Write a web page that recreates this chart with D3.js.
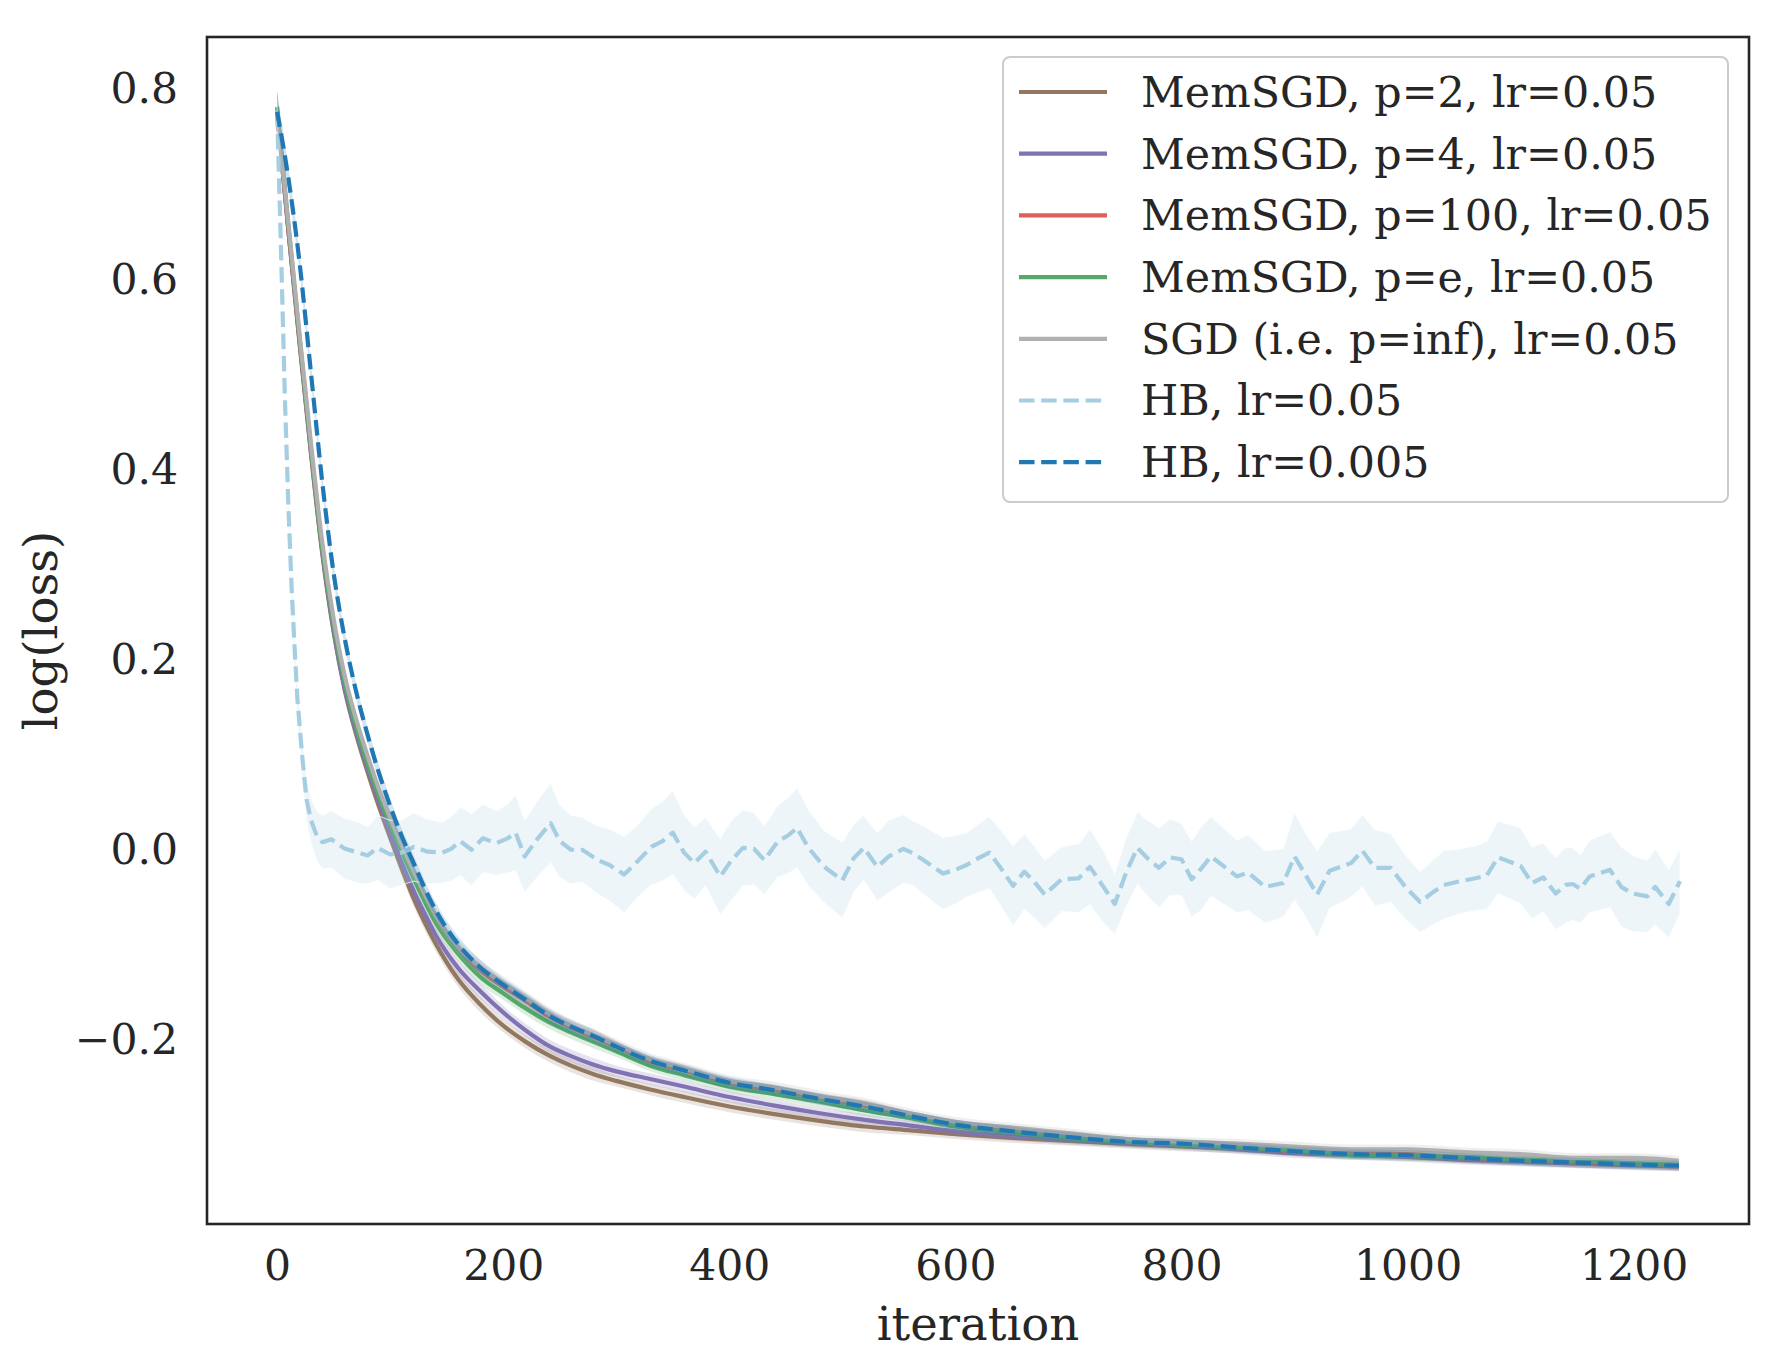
<!DOCTYPE html>
<html>
<head>
<meta charset="utf-8">
<script src="https://cdn.jsdelivr.net/npm/d3@7/dist/d3.min.js"></script>
<style>
  html, body { margin: 0; padding: 0; background: #ffffff; }
  svg { display: block; }
  text { font-family: "DejaVu Serif", serif; fill: #262626; }
</style>
</head>
<body>
<svg id="chart" width="1786" height="1368"></svg>
<script>
// ---------------- data ----------------
const seriesNames = [
  "MemSGD, p=2, lr=0.05",
  "MemSGD, p=4, lr=0.05",
  "MemSGD, p=100, lr=0.05",
  "MemSGD, p=e, lr=0.05",
  "SGD (i.e. p=inf), lr=0.05",
  "HB, lr=0.05",
  "HB, lr=0.005"
];
const seriesColors = ["#937860", "#8172b3", "#dc5f59", "#55a868", "#b0b0b0", "#a6cee3", "#1f78b4"];
const seriesDashed = [false, false, false, false, false, true, true];

const xTicks = [0, 200, 400, 600, 800, 1000, 1200];
const yTicks = [-0.2, 0.0, 0.2, 0.4, 0.6, 0.8];

// shared iteration grid for the smooth curves
const memIter = [0,10,20,30,40,50,60,70,80,90,100,110,120,130,140,160,180,200,220,240,260,280,300,330,360,400,440,480,520,560,600,650,700,750,800,850,900,950,1000,1050,1100,1150,1200,1240];

const memP2 = [0.775,0.65,0.53,0.415,0.31,0.228,0.166,0.12,0.081,0.045,0.012,-0.02,-0.05,-0.076,-0.099,-0.137,-0.164,-0.186,-0.203,-0.217,-0.228,-0.237,-0.244,-0.253,-0.261,-0.271,-0.279,-0.286,-0.292,-0.296,-0.300,-0.304,-0.307,-0.310,-0.313,-0.315,-0.318,-0.321,-0.323,-0.326,-0.328,-0.330,-0.332,-0.334];
const memP4 = [0.775,0.65,0.532,0.417,0.312,0.23,0.168,0.123,0.085,0.05,0.017,-0.014,-0.042,-0.067,-0.09,-0.125,-0.150,-0.172,-0.191,-0.207,-0.218,-0.227,-0.234,-0.242,-0.250,-0.261,-0.270,-0.278,-0.285,-0.291,-0.297,-0.302,-0.306,-0.309,-0.312,-0.316,-0.320,-0.322,-0.324,-0.327,-0.329,-0.331,-0.333,-0.334];
const memP100 = [0.775,0.652,0.534,0.42,0.316,0.237,0.176,0.131,0.093,0.059,0.029,0.001,-0.026,-0.051,-0.074,-0.106,-0.128,-0.145,-0.160,-0.176,-0.188,-0.198,-0.208,-0.224,-0.233,-0.247,-0.254,-0.263,-0.270,-0.281,-0.290,-0.296,-0.302,-0.308,-0.310,-0.313,-0.318,-0.320,-0.321,-0.325,-0.327,-0.330,-0.331,-0.333];
const memPe = [0.78,0.655,0.535,0.42,0.315,0.235,0.174,0.128,0.09,0.056,0.026,-0.002,-0.029,-0.054,-0.077,-0.11,-0.135,-0.152,-0.168,-0.182,-0.193,-0.203,-0.213,-0.228,-0.238,-0.250,-0.258,-0.266,-0.275,-0.283,-0.292,-0.298,-0.304,-0.308,-0.311,-0.314,-0.317,-0.322,-0.323,-0.324,-0.327,-0.328,-0.331,-0.332];
const sgd = [0.775,0.658,0.54,0.426,0.322,0.242,0.181,0.136,0.098,0.063,0.033,0.005,-0.021,-0.046,-0.069,-0.103,-0.125,-0.141,-0.157,-0.173,-0.186,-0.196,-0.206,-0.221,-0.231,-0.244,-0.251,-0.260,-0.268,-0.278,-0.287,-0.293,-0.299,-0.305,-0.308,-0.310,-0.313,-0.316,-0.316,-0.319,-0.321,-0.325,-0.325,-0.328];
const hbSlow = [0.775,0.705,0.615,0.50,0.385,0.29,0.22,0.165,0.12,0.08,0.045,0.014,-0.013,-0.04,-0.064,-0.10,-0.125,-0.143,-0.159,-0.175,-0.187,-0.197,-0.208,-0.223,-0.233,-0.246,-0.254,-0.263,-0.271,-0.281,-0.290,-0.297,-0.303,-0.308,-0.310,-0.314,-0.318,-0.321,-0.322,-0.325,-0.328,-0.330,-0.332,-0.333];
const memSpread = [0.02,0.012,0.01,0.009,0.008,0.008,0.008,0.008,0.008,0.008,0.008,0.008,0.008,0.008,0.008,0.008,0.008,0.007,0.007,0.007,0.007,0.007,0.006,0.006,0.006,0.006,0.006,0.006,0.006,0.005,0.005,0.005,0.005,0.005,0.005,0.005,0.005,0.005,0.005,0.005,0.005,0.005,0.005,0.005];

// HB with lr=0.05 (noisy)
const hbFastIter = [0,3,5,7,10,13,16,18,22,26,
  30,35,40,48,60,72,80,89,100,110,
  121,133,146,154,162,172,182,194,204,211,
  219,230,242,250,260,270,284,294,307,319,
  331,341,350,360,369,379,392,402,412,422,
  431,443,452,460,470,484,500,510,519,531,
  541,554,563,572,589,600,610,620,630,640,
  651,661,670,679,694,709,719,731,741,751,
  761,770,780,790,800,809,818,826,837,849,
  859,874,890,900,910,920,931,950,960,971,
  985,998,1011,1022,1032,1047,1060,1070,1080,1100,
  1110,1120,1131,1140,1146,1153,1161,1179,1189,1199,
  1212,1219,1231,1241];
const hbFast = [0.775,0.65,0.56,0.47,0.36,0.27,0.2,0.157,0.1,0.052,
  0.03,0.014,0.007,0.010,0.000,-0.004,-0.007,0.001,-0.006,-0.004,
  0.002,-0.003,-0.004,0.000,0.008,-0.001,0.011,0.006,0.011,0.017,
  -0.008,0.010,0.027,0.008,-0.001,-0.001,-0.012,-0.017,-0.027,-0.013,
  0.002,0.008,0.017,-0.004,-0.015,-0.003,-0.029,-0.012,0.001,0.000,
  -0.012,0.008,0.014,0.022,0.001,-0.019,-0.033,-0.010,0.001,-0.019,
  -0.008,0.000,-0.005,-0.012,-0.026,-0.022,-0.017,-0.010,-0.004,-0.020,
  -0.039,-0.024,-0.035,-0.048,-0.032,-0.031,-0.019,-0.040,-0.058,-0.025,
  0.001,-0.010,-0.020,-0.009,-0.011,-0.032,-0.020,-0.008,-0.018,-0.029,
  -0.025,-0.040,-0.036,-0.008,-0.028,-0.048,-0.023,-0.015,-0.002,-0.020,
  -0.020,-0.040,-0.056,-0.046,-0.038,-0.034,-0.031,-0.028,-0.009,-0.018,
  -0.036,-0.030,-0.047,-0.038,-0.037,-0.042,-0.029,-0.022,-0.040,-0.047,
  -0.050,-0.040,-0.058,-0.034];
const hbFastSpread = [0.012,0.014,0.016,0.018,0.02,0.02,0.02,0.02,0.02,0.022,
  0.024,0.026,0.028,0.03,0.032,0.032,0.03,0.034,0.036,0.034,
  0.036,0.034,0.032,0.034,0.036,0.038,0.036,0.034,0.036,0.04,
  0.038,0.04,0.042,0.038,0.036,0.034,0.036,0.038,0.04,0.038,
  0.04,0.042,0.044,0.04,0.038,0.036,0.04,0.042,0.04,0.038,
  0.036,0.038,0.04,0.042,0.04,0.038,0.04,0.036,0.034,0.036,
  0.038,0.036,0.034,0.036,0.038,0.036,0.034,0.036,0.038,0.04,
  0.042,0.04,0.038,0.036,0.034,0.036,0.04,0.038,0.032,0.036,
  0.038,0.04,0.042,0.04,0.038,0.04,0.044,0.042,0.04,0.038,
  0.04,0.038,0.036,0.046,0.044,0.046,0.04,0.036,0.038,0.04,
  0.036,0.034,0.032,0.034,0.036,0.034,0.034,0.036,0.038,0.04,
  0.038,0.036,0.038,0.04,0.038,0.036,0.038,0.04,0.042,0.04,
  0.038,0.04,0.036,0.034];

// ---------------- layout ----------------
const svg = d3.select("#chart");
const plotLeft = 207, plotRight = 1749, plotTop = 37, plotBottom = 1224;
const x = d3.scaleLinear().domain([-62, 1302]).range([plotLeft, plotRight]);
const y = d3.scaleLinear().domain([-0.3945, 0.8536]).range([plotBottom, plotTop]);

const seriesData = [
  { iter: memIter, v: memP2, s: memSpread },
  { iter: memIter, v: memP4, s: memSpread },
  { iter: memIter, v: memP100, s: memSpread },
  { iter: memIter, v: memPe, s: memSpread },
  { iter: memIter, v: sgd, s: memSpread },
  { iter: hbFastIter, v: hbFast, s: hbFastSpread },
  { iter: memIter, v: hbSlow, s: memSpread }
];

const lineWidth = 4.2;
const dashPattern = "15.5,6.7";

const plot = svg.append("g");
seriesData.forEach((sd, i) => {
  const pts = sd.iter.map((it, k) => ({ it, v: sd.v[k], s: sd.s[k] }));
  const curve = i === 5 ? d3.curveLinear : d3.curveMonotoneX;
  const area = d3.area().x(d => x(d.it)).y0(d => y(d.v - d.s)).y1(d => y(d.v + d.s)).curve(curve);
  plot.append("path").datum(pts)
    .attr("d", area)
    .attr("fill", seriesColors[i])
    .attr("fill-opacity", 0.2)
    .attr("stroke", i === 5 ? "#ffffff" : "none")
    .attr("stroke-opacity", 0.6)
    .attr("stroke-width", 1.2);
  const line = d3.line().x(d => x(d.it)).y(d => y(d.v)).curve(curve);
  plot.append("path").datum(pts)
    .attr("d", line)
    .attr("fill", "none")
    .attr("stroke", seriesColors[i])
    .attr("stroke-width", lineWidth)
    .attr("stroke-linejoin", "round")
    .attr("stroke-dasharray", seriesDashed[i] ? dashPattern : null);
});

// axes frame
svg.append("rect")
  .attr("x", plotLeft).attr("y", plotTop)
  .attr("width", plotRight - plotLeft).attr("height", plotBottom - plotTop)
  .attr("fill", "none").attr("stroke", "#262626").attr("stroke-width", 2.6);

const xAxis = d3.axisBottom(x).tickValues(xTicks).tickSize(0).tickPadding(0).tickFormat(d3.format("d"));
const gx = svg.append("g").attr("transform", `translate(0,${plotBottom})`).call(xAxis);
gx.select(".domain").remove();
gx.selectAll("text").attr("dy", null).attr("y", 56)
  .style("font-family", '"DejaVu Serif", serif').style("font-size", "42.5px").style("fill", "#262626");

const yAxis = d3.axisLeft(y).tickValues(yTicks).tickSize(0).tickPadding(0).tickFormat(d3.format(".1f"));
const gy = svg.append("g").attr("transform", `translate(${plotLeft},0)`).call(yAxis);
gy.select(".domain").remove();
gy.selectAll("text").attr("x", -29).attr("dy", "0.35em")
  .style("font-family", '"DejaVu Serif", serif').style("font-size", "42.5px").style("fill", "#262626");

svg.append("text").attr("x", (plotLeft + plotRight) / 2).attr("y", 1340)
  .attr("text-anchor", "middle").style("font-size", "46.5px").text("iteration");
svg.append("text").attr("transform", `translate(57,${(plotTop + plotBottom) / 2}) rotate(-90)`)
  .attr("text-anchor", "middle").style("font-size", "46.5px").text("log(loss)");

// legend
const lg = svg.append("g");
lg.append("rect").attr("x", 1003).attr("y", 57).attr("width", 725).attr("height", 445)
  .attr("rx", 7).attr("fill", "#ffffff").attr("fill-opacity", 0.8)
  .attr("stroke", "#cccccc").attr("stroke-width", 2);
seriesNames.forEach((name, i) => {
  const cy = 92 + i * 61.7;
  lg.append("line").attr("x1", 1019).attr("x2", 1107).attr("y1", cy).attr("y2", cy)
    .attr("stroke", seriesColors[i]).attr("stroke-width", lineWidth)
    .attr("stroke-dasharray", seriesDashed[i] ? dashPattern : null);
  lg.append("text").attr("x", 1141).attr("y", cy).attr("dy", "0.35em")
    .style("font-size", "42.8px").text(name);
});
</script>
</body>
</html>
